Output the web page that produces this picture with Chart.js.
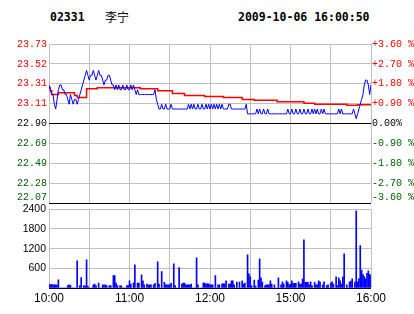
<!DOCTYPE html>
<html>
<head>
  <meta charset="utf-8">
  <title>02331 李宁</title>
  <style>
    body {
      margin: 0;
      background: #fff;
      width: 414px;
      height: 314px;
      overflow: hidden;
      position: relative;
    }
    .head {
      position: absolute;
      top: 10px;
      font: bold 11.5px "DejaVu Sans Mono", monospace;
      color: #000;
      white-space: nowrap;
    }
    .head.cn {
      top: 8px;
      font: 12px "Noto Sans CJK SC", sans-serif;
    }
    .box {
      position: absolute;
      left: 0;
      width: 414px;
    }
    #priceBox { top: 0; height: 217px; }
    #volBox { top: 200px; height: 114px; }
  </style>
</head>
<body>
  <div class="head" style="left:50px">02331</div>
  <div class="head cn" style="left:105px">李宁</div>
  <div class="head" style="left:238px">2009-10-06 16:00:50</div>

  <div class="box" id="priceBox"><canvas id="priceChart"></canvas></div>
  <div class="box" id="volBox"><canvas id="volChart"></canvas></div>

  <script src="https://cdn.jsdelivr.net/npm/chart.js"></script>
  <script>
    const prevClose = 22.90;
    const pctSteps = [-3.6, -2.7, -1.8, -0.9, 0, 0.9, 1.8, 2.7, 3.6];
    const priceLabels = ['22.07', '22.28', '22.49', '22.69', '22.90', '23.11', '23.31', '23.52', '23.73'];
    const pctLabels = ['-3.60 %', '-2.70 %', '-1.80 %', '-0.90 %', '0.00%', '+0.90 %', '+1.80 %', '+2.70 %', '+3.60 %'];
    const timeTicks = [0, 60, 120, 180, 240];
    const timeLabels = ['10:00', '11:00', '12:00', '15:00', '16:00'];
    const volTicks = [0, 600, 1200, 1800, 2400];

    // one value per trading minute, 10:00 .. 16:00
    const price = [
      23.30, 23.25, 23.20, 23.20, 23.10, 23.05, 23.15, 23.25, 23.30, 23.30,
      23.25, 23.25, 23.20, 23.20, 23.15, 23.10, 23.20, 23.15, 23.10, 23.15,
      23.15, 23.10, 23.15, 23.20, 23.25, 23.30, 23.35, 23.40, 23.45, 23.40,
      23.35, 23.40, 23.40, 23.45, 23.40, 23.35, 23.40, 23.45, 23.40, 23.40,
      23.35, 23.30, 23.35, 23.35, 23.40, 23.40, 23.35, 23.30, 23.30, 23.25,
      23.30, 23.25, 23.30, 23.25, 23.25, 23.30, 23.25, 23.25, 23.30, 23.25,
      23.25, 23.30, 23.25, 23.30, 23.25, 23.20, 23.25, 23.20, 23.20, 23.20,
      23.20, 23.20, 23.20, 23.20, 23.20, 23.20, 23.20, 23.20, 23.20, 23.25,
      23.15, 23.10, 23.05, 23.05, 23.10, 23.05, 23.05, 23.10, 23.05, 23.05,
      23.05, 23.10, 23.05, 23.05, 23.05, 23.05, 23.05, 23.05, 23.05, 23.05,
      23.05, 23.05, 23.05, 23.05, 23.10, 23.05, 23.10, 23.05, 23.10, 23.05,
      23.05, 23.10, 23.05, 23.05, 23.10, 23.05, 23.05, 23.10, 23.05, 23.10,
      23.05, 23.10, 23.05, 23.10, 23.05, 23.10, 23.05, 23.10, 23.05, 23.10,
      23.05, 23.05, 23.05, 23.05, 23.10, 23.10, 23.05, 23.05, 23.05, 23.05,
      23.05, 23.05, 23.05, 23.05, 23.05, 23.05, 23.05, 23.10, 23.00, 23.00,
      23.00, 23.00, 23.00, 23.00, 23.00, 23.05, 23.00, 23.05, 23.00, 23.00,
      23.05, 23.00, 23.00, 23.05, 23.00, 23.00, 23.00, 23.00, 23.00, 23.00,
      23.00, 23.00, 23.00, 23.00, 23.00, 23.00, 23.00, 23.00, 23.05, 23.00,
      23.00, 23.05, 23.00, 23.00, 23.05, 23.00, 23.00, 23.05, 23.00, 23.00,
      23.05, 23.00, 23.00, 23.05, 23.00, 23.00, 23.05, 23.00, 23.05, 23.00,
      23.05, 23.00, 23.00, 23.05, 23.00, 23.05, 23.00, 23.00, 23.00, 23.00,
      23.00, 23.00, 23.00, 23.00, 23.00, 23.00, 23.05, 23.00, 23.05, 23.00,
      23.00, 23.00, 23.00, 23.00, 23.00, 23.00, 23.00, 23.05, 23.00, 22.95,
      23.00, 23.05, 23.10, 23.15, 23.20, 23.30, 23.35, 23.35, 23.30, 23.20,
      23.30
    ];

    const avgPrice = [
      23.27, 23.24, 23.20, 23.20, 23.20, 23.20, 23.20, 23.22, 23.22, 23.22,
      23.22, 23.22, 23.22, 23.22, 23.22, 23.22, 23.22, 23.22, 23.22, 23.19,
      23.19, 23.17, 23.17, 23.17, 23.17, 23.17, 23.17, 23.17, 23.26, 23.26,
      23.26, 23.26, 23.26, 23.26, 23.26, 23.26, 23.27, 23.27, 23.27, 23.27,
      23.27, 23.27, 23.27, 23.27, 23.27, 23.27, 23.27, 23.27, 23.27, 23.27,
      23.27, 23.27, 23.27, 23.27, 23.27, 23.27, 23.27, 23.27, 23.27, 23.27,
      23.27, 23.27, 23.27, 23.27, 23.27, 23.27, 23.27, 23.27, 23.26, 23.26,
      23.26, 23.26, 23.26, 23.26, 23.26, 23.26, 23.26, 23.26, 23.26, 23.26,
      23.26, 23.24, 23.24, 23.24, 23.24, 23.24, 23.24, 23.24, 23.24, 23.24,
      23.24, 23.24, 23.21, 23.21, 23.21, 23.21, 23.21, 23.21, 23.21, 23.21,
      23.21, 23.19, 23.19, 23.19, 23.19, 23.19, 23.19, 23.19, 23.19, 23.19,
      23.19, 23.19, 23.19, 23.19, 23.19, 23.19, 23.18, 23.18, 23.18, 23.18,
      23.18, 23.18, 23.18, 23.18, 23.18, 23.18, 23.18, 23.18, 23.18, 23.18,
      23.17, 23.17, 23.17, 23.17, 23.17, 23.17, 23.17, 23.17, 23.17, 23.17,
      23.17, 23.17, 23.17, 23.17, 23.15, 23.15, 23.15, 23.15, 23.15, 23.15,
      23.15, 23.15, 23.15, 23.14, 23.14, 23.14, 23.14, 23.14, 23.14, 23.14,
      23.14, 23.14, 23.14, 23.14, 23.14, 23.14, 23.14, 23.14, 23.14, 23.14,
      23.125, 23.125, 23.125, 23.125, 23.125, 23.125, 23.125, 23.125, 23.125, 23.125,
      23.125, 23.125, 23.125, 23.125, 23.125, 23.125, 23.125, 23.125, 23.125, 23.125,
      23.11, 23.11, 23.11, 23.11, 23.11, 23.11, 23.11, 23.11, 23.10, 23.10,
      23.10, 23.10, 23.10, 23.10, 23.10, 23.10, 23.10, 23.10, 23.10, 23.10,
      23.10, 23.10, 23.10, 23.10, 23.10, 23.10, 23.10, 23.10, 23.10, 23.10,
      23.10, 23.10, 23.09, 23.09, 23.09, 23.09, 23.09, 23.09, 23.09, 23.09,
      23.095, 23.095, 23.095, 23.095, 23.095, 23.095, 23.095, 23.095, 23.095, 23.095,
      23.095
    ];

    const volume = [
      110, 100, 110, 100, 100, 100, 90, 250, 0, 0,
      0, 0, 0, 0, 70, 100, 80, 0, 0, 0,
      0, 830, 0, 70, 320, 0, 70, 60, 860, 60,
      0, 0, 0, 100, 120, 70, 0, 150, 0, 0,
      100, 90, 100, 70, 0, 70, 70, 0, 375, 375,
      150, 70, 0, 70, 60, 0, 0, 0, 70, 70,
      220, 120, 0, 160, 710, 0, 150, 150, 0, 400,
      220, 100, 0, 120, 90, 100, 100, 0, 100, 140,
      0, 800, 120, 0, 500, 0, 170, 100, 100, 100,
      100, 140, 0, 740, 70, 0, 0, 620, 0, 120,
      150, 150, 100, 100, 100, 100, 120, 0, 0, 0,
      920, 100, 0, 0, 0, 150, 150, 130, 130, 130,
      100, 100, 100, 0, 375, 0, 100, 100, 0, 130,
      130, 130, 220, 0, 120, 120, 220, 220, 100, 0,
      180, 0, 180, 0, 220, 120, 150, 0, 1010, 435,
      340, 70, 0, 240, 60, 0, 240, 890, 310, 180,
      0, 70, 100, 100, 100, 220, 120, 0, 100, 0,
      0, 310, 0, 100, 190, 120, 0, 220, 170, 100,
      120, 220, 140, 140, 140, 0, 190, 120, 120, 270,
      1470, 170, 170, 170, 100, 190, 70, 0, 170, 100,
      100, 220, 180, 0, 100, 190, 0, 70, 100, 0,
      150, 190, 120, 0, 340, 70, 310, 220, 120, 340,
      1045, 0, 100, 0, 180, 210, 280, 0, 180, 2350,
      190, 290, 1290, 550, 420, 350, 280, 450, 520, 420,
      380
    ];

    const gridGray = '#c0c0c0';
    const monoFont = { family: 'Liberation Mono', size: 10 };

    function levelColor(i) {
      if (pctSteps[i] > 0) return '#ff0000';
      if (pctSteps[i] < 0) return '#006400';
      return '#000000';
    }

    // bottom label sits a little above its line, as in the original
    function lift(label, i) {
      return i === 0 ? [label, ''] : label;
    }

    function timeAxis(showLabels) {
      return {
        type: 'linear',
        min: 0,
        max: 240,
        offset: false,
        border: { display: false },
        grid: { color: gridGray, drawTicks: false, offset: false },
        ticks: {
          display: showLabels,
          stepSize: 30,
          autoSkip: false,
          maxRotation: 0,
          padding: 3,
          color: '#000',
          font: { family: 'Liberation Sans', size: 12 },
          callback: v => {
            const i = timeTicks.indexOf(v);
            return i < 0 ? '' : timeLabels[i];
          }
        },
        afterFit: s => { s.height = showLabels ? 26 : 0; }
      };
    }

    const toPoints = arr => arr.map((v, i) => ({ x: i, y: v }));

    new Chart(document.getElementById('priceChart'), {
      type: 'line',
      data: {
        datasets: [
          { data: toPoints(price), borderColor: '#0000ff', borderWidth: 1, pointRadius: 0, yAxisID: 'y' },
          { data: toPoints(avgPrice), borderColor: '#ff0000', borderWidth: 1.5, pointRadius: 0, stepped: true, yAxisID: 'y' }
        ]
      },
      options: {
        responsive: true,
        maintainAspectRatio: false,
        animation: false,
        layout: { padding: { top: 44, bottom: 0 } },
        plugins: { legend: { display: false }, tooltip: { enabled: false } },
        scales: {
          x: timeAxis(false),
          y: {
            position: 'left',
            min: prevClose * (1 - 0.036),
            max: prevClose * (1 + 0.036),
            afterBuildTicks: s => { s.ticks = pctSteps.map(p => ({ value: prevClose * (1 + p / 100) })); },
            afterFit: s => { s.width = 49; },
            border: { display: false },
            grid: {
              drawTicks: false,
              color: c => (c.index === 0 || pctSteps[c.index] === 0) ? '#000000' : gridGray
            },
            ticks: {
              autoSkip: false,
              padding: 2,
              font: monoFont,
              color: c => levelColor(c.index),
              callback: (v, i) => lift(priceLabels[i], i)
            }
          },
          y2: {
            position: 'right',
            min: -3.6,
            max: 3.6,
            afterBuildTicks: s => { s.ticks = pctSteps.map(p => ({ value: p })); },
            afterFit: s => { s.width = 43; },
            border: { display: false },
            grid: { display: false, drawTicks: false },
            ticks: {
              autoSkip: false,
              padding: 1,
              font: monoFont,
              color: c => levelColor(c.index),
              callback: (v, i) => lift(pctLabels[i], i)
            }
          }
        }
      }
    });

    new Chart(document.getElementById('volChart'), {
      type: 'bar',
      data: {
        datasets: [
          { data: toPoints(volume), backgroundColor: '#0000ff', barThickness: 1 }
        ]
      },
      options: {
        responsive: true,
        maintainAspectRatio: false,
        animation: false,
        layout: { padding: { top: 9, right: 43 } },
        plugins: { legend: { display: false }, tooltip: { enabled: false } },
        scales: {
          x: timeAxis(true),
          y: {
            min: 0,
            max: 2400,
            afterBuildTicks: s => { s.ticks = volTicks.map(v => ({ value: v })); },
            afterFit: s => { s.width = 49; },
            border: { display: false },
            grid: {
              drawTicks: false,
              color: c => c.index === 0 ? '#000000' : gridGray
            },
            ticks: {
              autoSkip: false,
              padding: 3,
              color: '#000',
              font: { family: 'Liberation Sans', size: 10.5 },
              callback: v => v === 0 ? '' : String(v)
            }
          }
        }
      }
    });
  </script>
</body>
</html>
